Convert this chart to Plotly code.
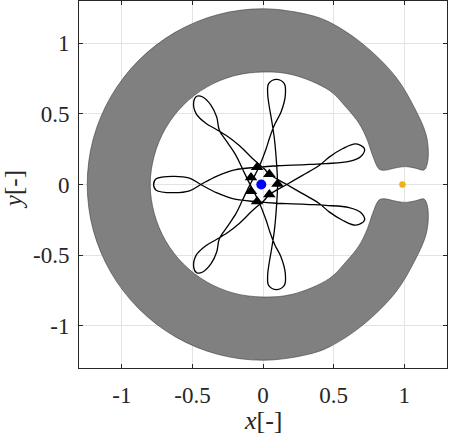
import plotly.graph_objects as go

# ---------------- data ----------------
# forbidden region (C-shaped ring), boundary traced as one closed outline
region_x = [0.822, 0.858, 0.941, 1.011, 1.082, 1.141,
            1.164, 1.171, 1.153, 1.082, 0.941, 0.704, 0.469, 0.322, 0.0,
            -0.322, -0.6225, -0.880, -1.078, -1.203, -1.245,
            -1.203, -1.078, -0.880, -0.6225, -0.322, 0.0,
            0.322, 0.469, 0.704, 0.941, 1.082, 1.153, 1.171, 1.164,
            1.141, 1.082, 1.011, 0.941, 0.858, 0.822,
            0.775, 0.740, 0.681, 0.587, 0.469, 0.208, 0.0,
            -0.206, -0.3985, -0.5636, -0.690, -0.770, -0.799,
            -0.770, -0.690, -0.5636, -0.3985, -0.206, 0.0,
            0.208, 0.469, 0.587, 0.681, 0.740, 0.775, 0.822]
region_y = [0.110, 0.101, 0.118, 0.127, 0.115, 0.103,
            0.149, 0.243, 0.361, 0.526, 0.762, 0.998, 1.151, 1.203, 1.245,
            1.203, 1.078, 0.880, 0.6225, 0.322, 0.0,
            -0.322, -0.6225, -0.880, -1.078, -1.203, -1.245,
            -1.203, -1.151, -0.998, -0.762, -0.526, -0.361, -0.243, -0.149,
            -0.103, -0.115, -0.127, -0.118, -0.101, -0.110,
            -0.210, -0.313, -0.432, -0.549, -0.667, -0.778, -0.797,
            -0.770, -0.690, -0.5636, -0.3985, -0.206, 0.0,
            0.206, 0.3985, 0.5636, 0.690, 0.770, 0.797,
            0.778, 0.667, 0.549, 0.432, 0.313, 0.210, 0.110]

# periodic orbit, traced point by point (starts at the tip of the left loop)
orbit_x = [-0.775, -0.757, -0.639, -0.521, -0.440,
           -0.330, -0.200, -0.042, 0.100, 0.209, 0.330, 0.445,
           0.610, 0.693, 0.719, 0.658, 0.563, 0.469, 0.398,
           0.280, 0.160, 0.045, 0.009, -0.080, -0.168, -0.250, -0.330,
           -0.403, -0.474, -0.491, -0.470, -0.427, -0.368, -0.328, -0.309,
           -0.250, -0.191, -0.145, -0.100, -0.068, -0.028, 0.021, 0.050, 0.085,
           0.127, 0.158, 0.151, 0.095, 0.040, 0.033, 0.045, 0.062,
           0.080, 0.092, 0.103, 0.092, 0.080, 0.062,
           0.045, 0.033, 0.040, 0.095, 0.151, 0.158, 0.127, 0.085, 0.050, 0.021,
           -0.028, -0.068, -0.100, -0.145, -0.191, -0.250,
           -0.309, -0.328, -0.368, -0.427, -0.470, -0.491, -0.474, -0.403, -0.330,
           -0.250, -0.168, -0.080, 0.009, 0.045, 0.160, 0.280, 0.398,
           0.469, 0.563, 0.658, 0.719, 0.693, 0.610,
           0.445, 0.330, 0.209, 0.100, -0.042, -0.200, -0.330, -0.440,
           -0.521, -0.639, -0.757, -0.775]
orbit_y = [0.000, 0.040, 0.058, 0.045, 0.000,
           -0.058, -0.104, -0.122, -0.133, -0.137, -0.142, -0.148,
           -0.163, -0.198, -0.253, -0.288, -0.253, -0.194, -0.134,
           -0.065, 0.005, 0.072, 0.111, 0.190, 0.276, 0.340, 0.390,
           0.432, 0.502, 0.585, 0.625, 0.620, 0.561, 0.478, 0.384,
           0.295, 0.205, 0.110, 0.017, -0.045, -0.125, -0.250, -0.340, -0.430,
           -0.512, -0.630, -0.715, -0.745, -0.715, -0.644, -0.549, -0.450,
           -0.330, -0.205, 0.000, 0.205, 0.330, 0.450,
           0.549, 0.644, 0.715, 0.745, 0.715, 0.630, 0.512, 0.430, 0.340, 0.250,
           0.125, 0.045, -0.017, -0.110, -0.205, -0.295,
           -0.384, -0.478, -0.561, -0.620, -0.625, -0.585, -0.502, -0.432, -0.390,
           -0.340, -0.276, -0.190, -0.111, -0.072, -0.005, 0.065, 0.134,
           0.194, 0.253, 0.288, 0.253, 0.198, 0.163,
           0.148, 0.142, 0.137, 0.133, 0.122, 0.104, 0.058, 0.000,
           -0.045, -0.058, -0.040, 0.000]

# triangles (periapsis markers)
tri_x = [-0.042, 0.045, 0.103, 0.045, -0.042, -0.085, -0.085]
tri_y = [0.122, 0.072, 0.003, -0.070, -0.120, -0.048, 0.050]

# primaries
earth_x, earth_y = [-0.0122], [0.0]
moon_x, moon_y = [0.9878], [0.0]

tick_vals = [-1, -0.5, 0, 0.5, 1]
tick_text = ["-1", "-0.5", "0", "0.5", "1"]
axis_range = [-1.3, 1.3]

SERIF = "Liberation Serif, Times New Roman, Times, serif"

# ---------------- figure ----------------
fig = go.Figure()
fig.add_trace(go.Scatter(x=region_x, y=region_y, mode="lines", fill="toself",
                         fillcolor="#808080",
                         line=dict(color="#3a3a3a", width=0.6, shape="spline", smoothing=1.0),
                         hoverinfo="skip", showlegend=False))
fig.add_trace(go.Scatter(x=orbit_x, y=orbit_y, mode="lines",
                         line=dict(color="black", width=1.3, shape="spline", smoothing=1.0),
                         showlegend=False))
fig.add_trace(go.Scatter(x=tri_x, y=tri_y, mode="markers",
                         marker=dict(symbol="triangle-up", size=11, color="black"),
                         showlegend=False))
fig.add_trace(go.Scatter(x=earth_x, y=earth_y, mode="markers",
                         marker=dict(size=10, color="#0000ff"), showlegend=False))
fig.add_trace(go.Scatter(x=moon_x, y=moon_y, mode="markers",
                         marker=dict(size=6.5, color="#EDB120"), showlegend=False))

axis_common = dict(range=axis_range, tickvals=tick_vals, ticktext=tick_text,
                   showgrid=True, gridcolor="#e3e3e3", gridwidth=1,
                   zeroline=False, showline=True, linecolor="#262626", linewidth=1,
                   mirror="ticks", ticks="inside", ticklen=4, tickcolor="#262626",
                   tickfont=dict(family=SERIF, size=23, color="#262626"))
fig.update_xaxes(**axis_common, ticklabelstandoff=6)
fig.update_yaxes(**axis_common, ticklabelstandoff=4, scaleanchor="x", scaleratio=1)

fig.add_annotation(text="<i>x</i>[-]", x=0.5, xref="paper", y=-0.144, yref="paper",
                   xanchor="center", yanchor="middle", showarrow=False,
                   font=dict(family=SERIF, size=26, color="#262626"))
fig.add_annotation(text="<i>y</i>[-]", x=-0.179, xref="paper", y=0.485, yref="paper",
                   textangle=-90, showarrow=False, xanchor="center", yanchor="middle",
                   font=dict(family=SERIF, size=25, color="#262626"))

fig.update_layout(width=449, height=434, margin=dict(l=79, r=2, t=1, b=66, autoexpand=False),
                  paper_bgcolor="white", plot_bgcolor="white")
fig.write_html("out.html", config={"displayModeBar": False},
               post_script="document.body.style.margin='0';document.body.style.padding='0';")
